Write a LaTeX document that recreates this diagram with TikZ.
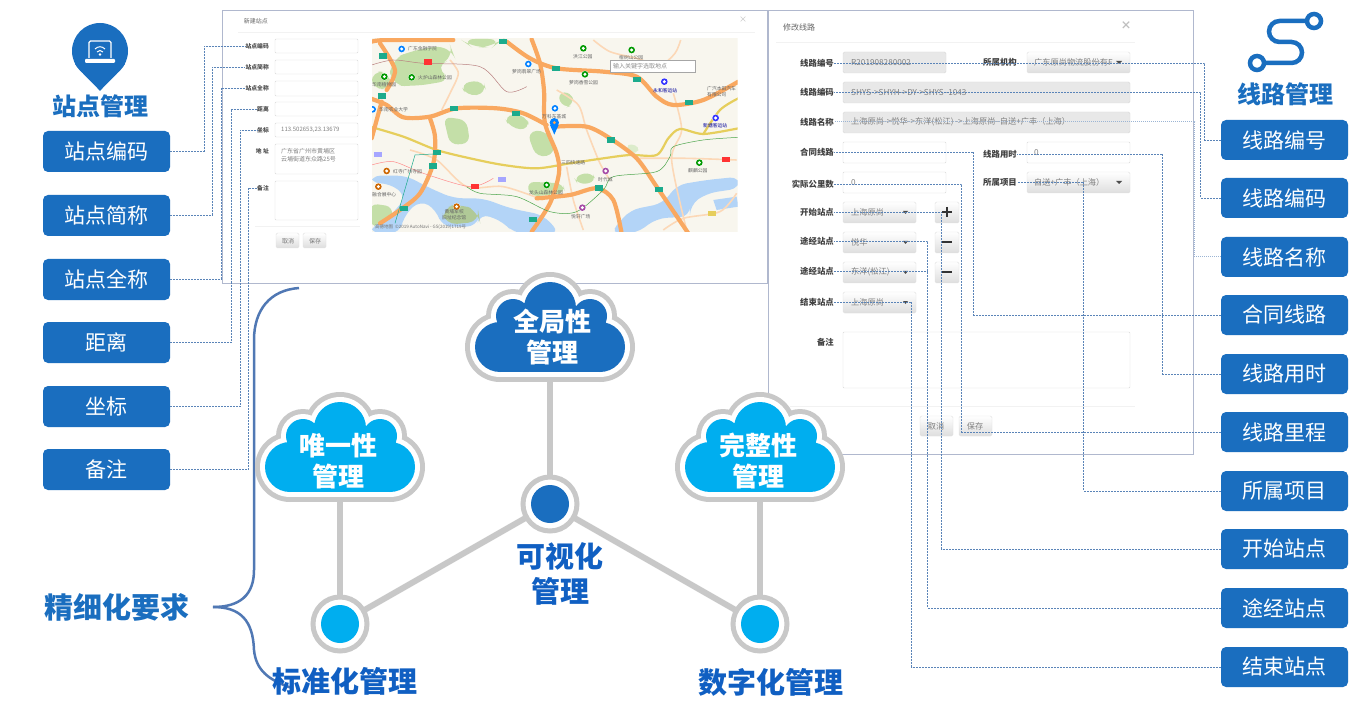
\documentclass[tikz,border=0pt]{standalone}
\usepackage{fontspec}
\setmainfont{Noto Sans CJK SC}
\usetikzlibrary{calc}
\definecolor{boxblue}{HTML}{1A6EBF}
\definecolor{skyblue}{HTML}{00AEEF}
\definecolor{headblue}{HTML}{105FC2}
\definecolor{linkblue}{HTML}{5A84B8}
\definecolor{bracegray}{HTML}{5078B4}
\definecolor{ringgray}{HTML}{C8C8C8}
\definecolor{frameblue}{HTML}{B0B8CE}
\definecolor{roadorange}{HTML}{F9A860}
\definecolor{roadyellow}{HTML}{E6CE5C}
\definecolor{mapwater}{HTML}{B3D4F7}
\definecolor{mapgreen}{HTML}{C4DFA8}
\definecolor{mapground}{HTML}{F8F6EE}
\definecolor{signgreen}{HTML}{1CAB8C}
\def\cloudlobes[#1](#2,#3)(#4){\fill[#1] (#2,#3-19) circle [radius=26+#4] (#2-37,#3-11) circle [radius=17+#4] (#2+40,#3-11) circle [radius=17+#4] (#2-50,#3+20) circle [radius=25+#4] (#2+50,#3+20) circle [radius=25+#4];\fill[#1] (#2-50,#3-5-#4) rectangle (#2+50,#3+45+#4);}
\def\cloudshape[#1](#2,#3){\cloudlobes[ringgray](#2,#3)(10)\cloudlobes[white](#2,#3)(5)\cloudlobes[#1](#2,#3)(0)}
\def\hubdot[#1](#2){\draw[ringgray,line width=5,fill=white] (#2) circle (27);\fill[#1] (#2) circle (19);}
\def\mapmark[#1](#2,#3){\fill[white] (#2,#3) circle (11);\fill[#1] (#2,#3) circle (10);\fill[white] (#2,#3) circle (5);}
\def\mapsign[#1](#2,#3){\fill[#1] (#2-12,#3-8) rectangle (#2+12,#3+8);}
\tikzset{
	mainbox/.style={rectangle,rounded corners=5,fill=boxblue,text=white,minimum width=127,minimum height=41,inner sep=0,font=\fontsize{21}{24}\selectfont},
	cloudtext/.style={text=white,align=center,inner sep=0,font=\fontsize{26}{31.5}\bfseries\selectfont},
	headtext/.style={text=headblue,align=center,inner sep=0,font=\fontsize{29}{35}\bfseries\selectfont},
	titletext/.style={text=boxblue,inner sep=0,font=\fontsize{24}{28}\bfseries\selectfont},
	conn/.style={linkblue,line width=0.7,dash pattern=on 2pt off 1pt},
	connlight/.style={linkblue!60,line width=1,dash pattern=on 1pt off 1pt},
	stem/.style={ringgray,line width=6},
	labA/.style={anchor=east,inner sep=0,text=black!70,font=\fontsize{5.8}{7}\bfseries\selectfont},
	labB/.style={anchor=east,inner sep=0,text=black!75,font=\fontsize{8.4}{10}\bfseries\selectfont},
	valA/.style={anchor=west,inner sep=0,text=black!50,font=\fontsize{6}{8}\selectfont},
	valB/.style={anchor=west,inner sep=0,text=black!50,font=\fontsize{8.2}{10}\selectfont},
	field/.style={draw=black!15,fill=white,rounded corners=1},
	fieldoff/.style={draw=black!15,fill=black!9,rounded corners=1.5},
	btn/.style={draw=black!12,top color=white,bottom color=black!13,rounded corners=1.5},
	mapname/.style={anchor=west,inner sep=0,text=black!60,font=\fontsize{4.8}{6}\selectfont},
	road/.style={roadorange,line width=4.2,line join=round,line cap=round},
	roadmid/.style={roadyellow,line width=2.2,line join=round},
	roadthin/.style={roadorange!45,line width=1.6,line join=round},
	rail/.style={line width=0.5},
}
\begin{document}
\begin{tikzpicture}[x=1pt,y=-1pt]
			\useasboundingbox (0,0) rectangle (1370,719);
			\fill[white] (0,0) rectangle (1370,719);
			
			%%%%% left form %%%%%
			\draw[frameblue,fill=white,line width=0.8] (222,10) rectangle (767,283);
			\node[labA,text=black!60,font=\fontsize{6}{7}\selectfont] (formAtitle) at (268,21) {新建站点};
			\node[inner sep=0,text=black!25,font=\fontsize{8}{8}\selectfont] (formAclose) at (743,20) {×};
			\draw[black!5] (238,32) -- (755,32);
			
			\draw[field] (275,39) rectangle (358,53);
			\draw[field] (275,60) rectangle (358,74);
			\draw[field] (275,81) rectangle (358,96);
			\draw[field] (275,102) rectangle (358,116);
			\draw[field] (275,123) rectangle (358,137);
			\draw[field] (275,144) rectangle (358,174);
			\draw[field] (275,181) rectangle (358,220);
			\draw[black!5] (255,226) -- (360,226);
			\draw[btn] (276,233) rectangle (299,248);
			\draw[btn] (303,233) rectangle (326,248);
			
			\node[labA] (fa1) at (269,46) {站点编码};
			\node[labA] (fa2) at (269,67) {站点简称};
			\node[labA] (fa3) at (269,88) {站点全称};
			\node[labA] (fa4) at (269,109) {距离};
			\node[labA] (fa5) at (269,130) {坐标};
			\node[labA] (fa6) at (269,151) {地 址};
			\node[labA] (fa7) at (269,188) {备注};
			\node[valA] (va1) at (281,130) {113.502653,23.13679};
			\node[valA,align=left] (va2) at (281,155) {广东省广州市黄埔区\\云埔街道东众路25号};
			\node[inner sep=0,text=black!55,font=\fontsize{6}{7}\selectfont] (ba1) at (288,241) {取消};
			\node[inner sep=0,text=black!55,font=\fontsize{6}{7}\selectfont] (ba2) at (315,241) {保存};
			
			%%%%% map %%%%%
			\begin{scope}[shift={(370,30)},x=0.3333pt,y=-0.3333pt]
				\clip (6,27) rectangle (1103,605);
				\fill[mapground] (0,0) rectangle (1110,610);
				
				\fill[mapgreen,rounded corners=15] (270,27) -- (400,27) -- (370,50) -- (310,55) -- cycle;
				\fill[mapgreen,rounded corners=15] (60,90) -- (130,60) -- (240,45) -- (255,85) -- (190,110) -- (250,150) -- (130,170) -- (60,165) -- cycle;
				\fill[mapgreen,rounded corners=12] (5,120) -- (60,130) -- (70,175) -- (5,180) -- cycle;
				\fill[mapgreen,rounded corners=10] (270,160) -- (340,150) -- (350,190) -- (290,200) -- cycle;
				\fill[mapgreen,rounded corners=10] (400,255) -- (470,255) -- (480,300) -- (420,295) -- cycle;
				\fill[mapgreen,rounded corners=10] (470,305) -- (530,300) -- (560,370) -- (500,385) -- cycle;
				\fill[mapgreen,rounded corners=8] (560,190) -- (605,185) -- (612,225) -- (580,235) -- cycle;
				\fill[mapgreen,rounded corners=8] (610,440) -- (665,425) -- (680,455) -- (625,465) -- cycle;
				\fill[mapgreen,rounded corners=8] (220,260) -- (290,270) -- (300,340) -- (240,345) -- cycle;
				\fill[mapgreen,rounded corners=8] (470,455) -- (580,460) -- (585,490) -- (480,500) -- cycle;
				\fill[mapgreen,rounded corners=8] (0,520) -- (70,530) -- (60,590) -- (0,590) -- cycle;
				\fill[mapgreen!60,rounded corners=5] (770,340) -- (810,350) -- (800,372) -- (775,368) -- cycle;
				
				\fill[mapwater,rounded corners=10] (0,437) -- (110,437) -- (170,470) -- (250,505) -- (340,505) -- (420,535) -- (520,555) -- (570,610) -- (430,610) -- (400,575) -- (330,550) -- (320,590) -- (215,590) -- (200,540) -- (150,510) -- (100,560) -- (90,610) -- (0,610) -- (0,590) -- (50,570) -- (110,500) -- (60,460) -- (0,460) -- cycle;
				\fill[mapwater,rounded corners=10] (720,610) -- (780,540) -- (880,520) -- (920,465) -- (1010,450) -- (1110,440) -- (1110,475) -- (1010,490) -- (960,525) -- (960,560) -- (860,565) -- (800,610) -- cycle;
				\fill[mapgreen!90!black,rounded corners=12] (215,535) -- (270,520) -- (325,545) -- (330,575) -- (225,585) -- cycle;
				\fill[mapwater] (1030,510) -- (1100,500) -- (1105,530) -- (1040,540) -- cycle;
				
				\draw[roadthin] plot[smooth] coordinates {(670,30) (720,65) (800,85) (870,105) (915,70) (932,30)};
				\draw[roadthin] plot[smooth] coordinates {(240,90) (265,130) (240,190) (215,240)};
				\draw[roadthin] plot[smooth] coordinates {(560,180) (625,225) (650,300) (690,400) (720,450)};
				\draw[roadthin] plot[smooth] coordinates {(910,190) (935,300) (905,390) (950,600)};
				\draw[roadthin] plot[smooth] coordinates {(120,360) (200,390) (290,470) (400,470) (520,510)};
				\draw[roadthin] plot[smooth] coordinates {(590,410) (610,510) (640,600)};
				\draw[roadthin] plot[smooth] coordinates {(880,600) (940,565) (1050,545) (1100,490)};
				\draw[roadthin] plot[smooth] coordinates {(800,385) (950,385) (1100,390)};
				
				\draw[roadmid] plot[smooth] coordinates {(0,290) (100,320) (200,360) (300,385) (400,405) (500,415) (600,400) (700,385) (780,375) (860,375) (895,325) (930,297) (1000,312) (1105,295)};
				\draw[roadmid] plot[smooth] coordinates {(1000,312) (1050,240) (1105,205)};
				
				\draw[road] plot[smooth] coordinates {(5,35) (50,30) (250,30)};
				\draw[road] plot[smooth] coordinates {(410,35) (480,85) (560,115) (700,125) (800,140) (860,200) (910,225) (1000,210) (1105,155)};
				\draw[road] plot[smooth] coordinates {(485,28) (510,100) (522,180) (525,280) (560,370) (567,430) (540,520) (485,605)};
				\draw[road] plot[smooth] coordinates {(0,205) (50,225) (100,262) (180,260) (260,235) (380,235) (460,250) (530,285)};
				\draw[road] plot[smooth] coordinates {(180,265) (195,320) (190,400) (150,490) (90,540) (30,580)};
				\draw[road] plot[smooth] coordinates {(35,215) (20,270) (5,325)};
				\draw[road] plot[smooth] coordinates {(30,40) (75,120) (50,180)};
				\draw[road] plot[smooth] coordinates {(555,290) (650,290) (720,325) (800,385) (860,470) (955,610)};
				\draw[road] plot[smooth] coordinates {(500,505) (600,495) (680,475) (730,510) (755,610)};
				
				\draw[rail,black!55!red!50] plot[smooth] coordinates {(5,105) (70,90) (160,100) (330,110) (410,185) (470,170)};
				\draw[rail,red!45] plot[smooth] coordinates {(5,405) (70,395) (160,430) (300,470) (370,445)};
				\draw[rail,green!50!black!70] plot[smooth] coordinates {(290,470) (330,490) (440,500) (540,545) (620,545) (700,480) (730,440) (860,425) (900,380) (910,350) (1000,330) (1105,322)};
				\draw[rail,signgreen] (75,580) -- (135,375) -- (190,372);
				
				\mapsign[signgreen](40,78)
				\mapsign[signgreen](35,198)
				\mapsign[signgreen](400,35)
				\mapsign[signgreen](558,116)
				\mapsign[signgreen](800,148)
				\mapsign[signgreen](956,218)
				\mapsign[signgreen](252,236)
				\mapsign[signgreen](437,251)
				\mapsign[signgreen](724,330)
				\mapsign[signgreen](200,367)
				\mapsign[signgreen](190,408)
				\mapsign[signgreen](688,474)
				\mapsign[signgreen](867,478)
				\mapsign[signgreen](103,535)
				\mapsign[signgreen](490,568)
				\mapsign[red!80](174,96)
				\mapsign[red!80](316,470)
				\mapsign[red!80](1068,389)
				\mapsign[roadyellow](1025,550)
				\mapsign[blue!35](395,449)
				\mapsign[blue!35](25,373)
				
				\mapmark[blue!50!cyan](95,57)
				\mapmark[green!60!black](125,142)
				\mapmark[green!60!black](43,140)
				\mapmark[blue!50!cyan](8,238)
				\mapmark[blue!50!cyan](475,102)
				\mapmark[green!60!black](640,55)
				\mapmark[green!60!black](785,60)
				\mapmark[green!60!black](645,133)
				\mapmark[blue!80](883,155)
				\mapmark[blue!50!cyan](555,235)
				\mapmark[blue!80](1037,264)
				\mapmark[green!60!black](988,398)
				\mapmark[violet!70](707,423)
				\mapmark[orange!80!black](50,423)
				\mapmark[orange!80!black](25,470)
				\mapmark[green!60!black](530,465)
				\mapmark[violet!70](637,533)
				\mapmark[orange!80!black](260,530)
				
				\fill[blue!50!cyan] (553,278) circle (14);
				\fill[blue!50!cyan] (540,285) .. controls (545,297) and (550,305) .. (553,314) .. controls (556,305) and (561,297) .. (566,285) -- cycle;
				\fill[orange!70] (553,278) circle (5);
				
				\draw[black!35,fill=white,line width=0.6] (720,92) rectangle (976,127);
			\end{scope}
			
			\node[mapname] (m1) at (408,49) {广东金融学院};
			\node[mapname] (m2) at (418,78) {火炉山森林公园};
			\node[mapname] (m3) at (372,85) {华南植物园};
			\node[mapname] (m4) at (379,110) {华南农业大学};
			\node[mapname] (m5) at (512,72) {萝岗翡翠广场};
			\node[mapname] (m6) at (573,57) {洪江公园};
			\node[mapname] (m7) at (619,58) {柑树山公园};
			\node[mapname] (m8) at (569,83) {萝岗香雪公园};
			\node[mapname,text=blue!60!black] (m9) at (653,91) {永和客运站};
			\node[mapname,align=left] (m10) at (707,92) {广汽本田汽车\\有限公司};
			\node[mapname] (m11) at (542,117) {万科东荟城};
			\node[mapname,text=blue!60!black] (m12) at (703,126) {新塘客运站};
			\node[mapname] (m13) at (688,171) {麒麟公园};
			\node[mapname] (m14) at (598,180) {时代城};
			\node[mapname] (m15) at (393,172) {红寺广州寺园};
			\node[mapname] (m16) at (372,195) {融合展中心};
			\node[mapname] (m17) at (529,193) {龙头山森林公园};
			\node[mapname] (m18) at (571,217) {悦轩广场};
			\node[mapname,align=center] (m19) at (442,215) {黄埔军校\\旧址纪念馆};
			\node[mapname] (m20) at (561,163) {三四快速路};
			\node[inner sep=0,anchor=west,text=black!55,font=\fontsize{4.5}{5}\selectfont] (m21) at (375,227) {高德地图 \ ©2019 AutoNavi - GS(2019)1719号};
			\node[inner sep=0,anchor=west,text=black!45,font=\fontsize{6}{7}\selectfont] (m22) at (613,66) {输入关键字选取地点};
			
			%%%%% right form %%%%%
			\draw[frameblue,fill=white,line width=0.8] (768,10) rectangle (1193,454);
			\node[inner sep=0,text=black!60,font=\fontsize{8}{10}\selectfont] (formBtitle) at (799,27) {修改线路};
			\node[inner sep=0,text=black!25,font=\fontsize{11}{11}\bfseries\selectfont] (formBclose) at (1126,26) {×};
			\draw[black!5] (776,42) -- (1135,42);
			\draw[black!5] (790,406) -- (1135,406);
			
			\draw[fieldoff] (843,52) rectangle (946,73);
			\draw[btn] (1027,52) rectangle (1130,73);
			\draw[fieldoff] (843,82) rectangle (1130,103);
			\draw[fieldoff] (843,112) rectangle (1130,133);
			\draw[field] (843,142) rectangle (946,163);
			\draw[field] (1027,142) rectangle (1130,163);
			\draw[field] (843,172) rectangle (946,193);
			\draw[btn] (1027,172) rectangle (1130,193);
			\draw[btn] (843,202) rectangle (916,223);
			\draw[btn] (843,232) rectangle (916,253);
			\draw[btn] (843,262) rectangle (916,283);
			\draw[btn] (843,292) rectangle (916,313);
			\draw[btn] (935,202) rectangle (959,223);
			\draw[btn] (935,232) rectangle (959,253);
			\draw[btn] (935,262) rectangle (959,283);
			\draw[field] (843,332) rectangle (1130,388);
			\draw[btn] (920,416) rectangle (953,436);
			\draw[btn] (959,416) rectangle (992,436);
			\fill[black!70] (1116,61) -- (1122,61) -- (1119,64) -- cycle;
			\fill[black!70] (1116,181) -- (1122,181) -- (1119,184) -- cycle;
			\fill[black!70] (903,211) -- (908,211) -- (905.5,214) -- cycle;
			\fill[black!70] (903,241) -- (908,241) -- (905.5,244) -- cycle;
			\fill[black!70] (903,271) -- (908,271) -- (905.5,274) -- cycle;
			\fill[black!70] (903,301) -- (908,301) -- (905.5,304) -- cycle;
			\draw[black!80,line width=1.6] (942,212) -- (952,212) (947,207) -- (947,217);
			\draw[black!80,line width=1.6] (942,242) -- (952,242);
			\draw[black!80,line width=1.6] (942,272) -- (952,272);
			
			\node[labB] (fb1) at (834,63) {线路编号};
			\node[labB] (fb2) at (834,92) {线路编码};
			\node[labB] (fb3) at (834,122) {线路名称};
			\node[labB] (fb4) at (834,152) {合同线路};
			\node[labB] (fb5) at (834,184) {实际公里数};
			\node[labB] (fb6) at (834,212) {开始站点};
			\node[labB] (fb7) at (834,241) {途经站点};
			\node[labB] (fb8) at (834,271) {途经站点};
			\node[labB] (fb9) at (834,302) {结束站点};
			\node[labB] (fb10) at (834,342) {备注};
			\node[labB] (fb11) at (1017,62) {所属机构};
			\node[labB] (fb12) at (1017,154) {线路用时};
			\node[labB] (fb13) at (1017,182) {所属项目};
			
			\node[valB] (vb1) at (851,63) {R201908280002};
			\node[valB] (vb2) at (851,92) {SHYS->SHYH->DY->SHYS--1043};
			\node[valB] (vb3) at (851,122) {上海原尚->悦华->东洋(松江) ->上海原尚--自送+广丰（上海）};
			\node[valB] (vb4) at (851,183) {0};
			\node[valB] (vb5) at (851,212) {上海原尚};
			\node[valB] (vb6) at (851,242) {悦华};
			\node[valB] (vb7) at (851,272) {东洋(松江)};
			\node[valB] (vb8) at (851,302) {上海原尚};
			\node[valB] (vb9) at (1034,62) {广东原尚物流股份有F};
			\node[valB] (vb10) at (1034,153) {0};
			\node[valB] (vb11) at (1034,182) {自送+广丰（上海）};
			\node[inner sep=0,text=black!50,font=\fontsize{8.2}{10}\selectfont] (bb1) at (936,426) {取消};
			\node[inner sep=0,text=black!50,font=\fontsize{8.2}{10}\selectfont] (bb2) at (975,426) {保存};
			
			%%%%% main boxes %%%%%
			\node[mainbox] (la1) at (106.5,151.5) {\raisebox{1pt}{站点编码}};
			\node[mainbox] (la2) at (106.5,215.5) {\raisebox{1pt}{站点简称}};
			\node[mainbox] (la3) at (106.5,279.5) {\raisebox{1pt}{站点全称}};
			\node[mainbox] (la4) at (106.5,342.5) {距离};
			\node[mainbox] (la5) at (106.5,406.5) {坐标};
			\node[mainbox] (la6) at (106.5,469.5) {备注};
			
			\node[mainbox,minimum height=40] (ra1) at (1284.5,140) {\raisebox{1pt}{线路编号}};
			\node[mainbox,minimum height=40] (ra2) at (1284.5,198) {\raisebox{1pt}{线路编码}};
			\node[mainbox,minimum height=40] (ra3) at (1284.5,257) {\raisebox{1pt}{线路名称}};
			\node[mainbox,minimum height=40] (ra4) at (1284.5,315) {\raisebox{1pt}{合同线路}};
			\node[mainbox,minimum height=40] (ra5) at (1284.5,374) {\raisebox{1pt}{线路用时}};
			\node[mainbox,minimum height=40] (ra6) at (1284.5,432) {\raisebox{1pt}{线路里程}};
			\node[mainbox,minimum height=40] (ra7) at (1284.5,491) {\raisebox{1pt}{所属项目}};
			\node[mainbox,minimum height=40] (ra8) at (1284.5,549) {\raisebox{1pt}{开始站点}};
			\node[mainbox,minimum height=40] (ra9) at (1284.5,608) {\raisebox{1pt}{途经站点}};
			\node[mainbox,minimum height=40] (ra10) at (1284.5,667) {\raisebox{1pt}{结束站点}};
			
			%%%%% dashed links %%%%%
			\draw[conn] (la1.east) -- ++(34,0) |- (fa1.west);
			\draw[conn] (la2.east) -- ++(42,0) |- (fa2.west);
			\draw[conn] (la3.east) -- ++(51,0) |- (fa3.west);
			\draw[conn] (la4.east) -- ++(61,0) |- (fa4.west);
			\draw[conn] (la5.east) -- ++(70,0) |- (fa5.west);
			\draw[conn] (la6.east) -- ++(78,0) |- (fa7.west);
			
			\draw[conn] (ra1.west) -- ++(-16,0) |- (fb1.east);
			\draw[conn] (ra2.west) -- ++(-20,0) |- (fb2.east);
			\draw[connlight] (ra3.west) -- ++(-26,0) |- (fb3.east);
			\draw[conn] (ra4.west) -- ++(-247,0) |- (fb4.east);
			\draw[conn] (ra5.west) -- ++(-58,0) |- (fb12.east);
			\draw[conn] (ra6.west) -- ++(-259,0) |- (fb5.east);
			\draw[conn] (ra7.west) -- ++(-137,0) |- (fb13.east);
			\draw[conn] (ra8.west) -- ++(-279,0) |- (fb6.east);
			\draw[conn] (ra9.west) -- ++(-293,0) |- (fb7.east);
			\draw[conn] (fb8.east) -- (928,271);
			\draw[conn] (ra10.west) -- ++(-309,0) |- (fb9.east);
			
			%%%%% icons %%%%%
			\fill[boxblue] (100,51) circle (28);
			\fill[boxblue] (75,64) .. controls (85,77) and (93,83) .. (100,91) .. controls (107,83) and (115,77) .. (125,64) -- cycle;
			\draw[white,line width=1.1,rounded corners=1.5] (89,58) -- (89,41) -- (111,41) -- (111,58);
			\fill[white,rounded corners=1] (85,59) rectangle (115,63);
			\draw[white,line width=1] (95,49) .. controls (98,46) and (102,46) .. (105,49);
			\draw[white,line width=1] (97,52) .. controls (99,50) and (101,50) .. (103,52);
			\fill[white] (100,54.5) circle (1.3);
			\node[titletext] (headA) at (100,106) {站点管理};
			
			\draw[boxblue,line width=4.5,rounded corners=10.5] (1306,21) -- (1269,21) -- (1269,42) -- (1302,42) -- (1302,63) -- (1265,63);
			\draw[boxblue,line width=4.5,fill=white] (1314,21) circle (7);
			\draw[boxblue,line width=4.5,fill=white] (1257,63) circle (7);
			\node[titletext] (headB) at (1285,94) {线路管理};
			
			%%%%% brace %%%%%
			\draw[bracegray,line width=2.5] (299,288) .. controls (270,290) and (254,310) .. (254,340) -- (254,570) .. controls (254,595) and (240,607) .. (213,607);
			\draw[bracegray,line width=2.5] (213,607) .. controls (240,607) and (253,620) .. (254,650) .. controls (256,670) and (268,680) .. (292,688);
			\node[text=boxblue,inner sep=0,font=\fontsize{29}{35}\bfseries\selectfont] (fineReq) at (116.5,607) {精细化要求};
			
			%%%%% clouds and hubs %%%%%
			\coordinate (cloudc) at (550,327);
			\coordinate (cloudl) at (340,447);
			\coordinate (cloudr) at (760,447);
			\coordinate (hubc) at (550,504);
			\coordinate (hubl) at (340,624);
			\coordinate (hubr) at (760,624);
			\draw[stem] (cloudc) -- (hubc);
			\draw[stem] (cloudl) -- (hubl);
			\draw[stem] (cloudr) -- (hubr);
			\draw[stem] (hubc) -- (hubl);
			\draw[stem] (hubc) -- (hubr);
			
			\cloudshape[boxblue](550,327)
			\cloudshape[skyblue](340,447)
			\cloudshape[skyblue](760,447)
			\hubdot[boxblue](hubc)
			\hubdot[skyblue](hubl)
			\hubdot[skyblue](hubr)
			
			\node[cloudtext] (textc) at (552,337) {全局性\\管理};
			\node[cloudtext] (textl) at (338,461) {唯一性\\管理};
			\node[cloudtext] (textr) at (758,461) {完整性\\管理};
			\node[headtext] (headc) at (560,574) {可视化\\管理};
			\node[headtext] (headl) at (345,681) {标准化管理};
			\node[headtext] (headr) at (771,682) {数字化管理};
\end{tikzpicture}
\end{document}
